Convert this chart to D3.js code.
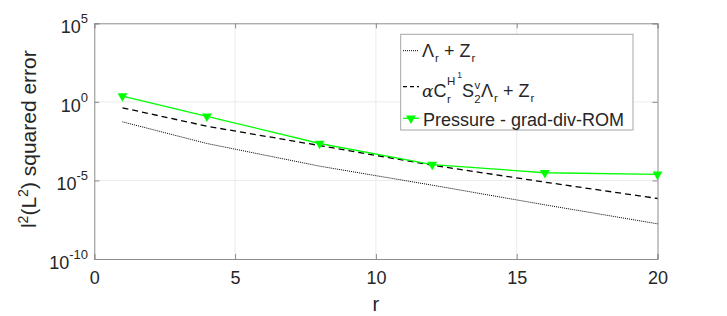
<!DOCTYPE html>
<html>
<head>
<meta charset="utf-8">
<script src="https://cdn.jsdelivr.net/npm/d3@7"></script>
<style>
  body { margin: 0; background: #fff; }
  text { font-family: "Liberation Sans", Arial, sans-serif; fill: #262626; }
</style>
</head>
<body>
<div id="chartContainer"></div>
<script>
// values (log axis)
const rValues = [1, 4, 8, 12, 16, 20]
const lambdaZ = [0.0537, 2.24e-3, 8.1e-5, 5.0e-6, 2.8e-7, 1.74e-8]
const boundH1 = [0.417, 0.0282, 1.66e-3, 9.3e-5, 7.8e-6, 7.1e-7]
const pressure = [2.34, 0.12, 2.24e-3, 1.02e-4, 3.09e-5, 2.40e-5]

const xTicks = [0, 5, 10, 15, 20]
const yTickExps = [5, 0, -5, -10]

const width = 727, height = 316
const margin = {top: 23.3, right: 69.5, bottom: 57, left: 94.3}

const x = d3.scaleLinear()
    .domain([0, 20])
    .range([margin.left, width - margin.right])

const y = d3.scaleLog()
    .domain([1e-10, 1e5])
    .range([height - margin.bottom, margin.top])

const svg = d3.select('#chartContainer')
  .append('svg')
  .attr('width', width)
  .attr('height', height)

const frameColor = '#8c8c8c'

// grid
svg.append('g')
  .selectAll('line')
  .data(xTicks.slice(1, -1))
  .join('line')
    .attr('x1', d => x(d)).attr('x2', d => x(d))
    .attr('y1', y.range()[0]).attr('y2', y.range()[1])
    .attr('stroke', '#ebebeb')

svg.append('g')
  .selectAll('line')
  .data(yTickExps.slice(1, -1))
  .join('line')
    .attr('y1', d => y(Math.pow(10, d))).attr('y2', d => y(Math.pow(10, d)))
    .attr('x1', x.range()[0]).attr('x2', x.range()[1])
    .attr('stroke', '#ebebeb')

// axes with inner ticks
let xAxis = g => g
    .attr('transform', `translate(0,${y.range()[0]})`)
    .call(d3.axisBottom(x).tickValues(xTicks).tickSize(-5).tickPadding(12))
    .call(g => g.selectAll('.domain, line').attr('stroke', frameColor))
    .call(g => g.selectAll('text').attr('font-size', 18).attr('fill', '#262626'))

let xTop = g => g
    .attr('transform', `translate(0,${y.range()[1]})`)
    .call(d3.axisTop(x).tickValues(xTicks).tickSize(-5).tickFormat(''))
    .call(g => g.selectAll('.domain, line').attr('stroke', frameColor))

let yAxis = g => g
    .attr('transform', `translate(${x.range()[0]},0)`)
    .call(d3.axisLeft(y).tickValues(yTickExps.map(e => Math.pow(10, e))).tickSize(-5).tickFormat(''))
    .call(g => g.selectAll('.domain, line').attr('stroke', frameColor))

let yRight = g => g
    .attr('transform', `translate(${x.range()[1]},0)`)
    .call(d3.axisRight(y).tickValues(yTickExps.map(e => Math.pow(10, e))).tickSize(-5).tickFormat(''))
    .call(g => g.selectAll('.domain, line').attr('stroke', frameColor))

svg.append('g').call(xAxis)
svg.append('g').call(xTop)
svg.append('g').call(yAxis)
svg.append('g').call(yRight)

// y tick labels 10^n
const yl = svg.append('g')
  .selectAll('text')
  .data(yTickExps)
  .join('text')
    .attr('text-anchor', 'end')
    .attr('x', 88)
    .attr('y', d => y(Math.pow(10, d)) + 10)
    .attr('font-size', 18)
yl.append('tspan').text('10')
yl.append('tspan').attr('font-size', 13).attr('dy', -10).text(d => d)

// axis titles
svg.append('text')
    .attr('x', x(10))
    .attr('y', 311)
    .attr('text-anchor', 'middle')
    .attr('font-size', 20)
    .text('r')

const ylab = svg.append('text')
    .attr('transform', `translate(36,${(y.range()[0] + y.range()[1]) / 2 - 2}) rotate(-90)`)
    .attr('text-anchor', 'middle')
    .attr('font-size', 21)
ylab.append('tspan').text('l')
ylab.append('tspan').attr('font-size', 14).attr('dy', -8).text('2')
ylab.append('tspan').attr('dy', 8).text('(L')
ylab.append('tspan').attr('font-size', 14).attr('dy', -8).text('2')
ylab.append('tspan').attr('dy', 8).text(') squared error')

// series
const series = [
  {values: lambdaZ, stroke: '#000', width: 1, dash: '1,1'},
  {values: boundH1, stroke: '#000', width: 1.3, dash: '6,4'},
  {values: pressure, stroke: '#00ff00', width: 1.3, dash: null}
]

let line = d3.line()
    .x((d, i) => x(rValues[i]))
    .y(d => y(d))

svg.append('g')
  .selectAll('path')
  .data(series)
  .join('path')
    .attr('fill', 'none')
    .attr('stroke', d => d.stroke)
    .attr('stroke-width', d => d.width)
    .attr('stroke-dasharray', d => d.dash)
    .attr('d', d => line(d.values))

const tri = d3.symbol().type(d3.symbolTriangle).size(42)

svg.append('g')
  .selectAll('path')
  .data(pressure)
  .join('path')
    .attr('transform', (d, i) => `translate(${x(rValues[i])},${y(d)}) rotate(180)`)
    .attr('d', tri)
    .attr('fill', '#00ff00')

// legend
const lg = svg.append('g')
lg.append('rect')
    .attr('x', 400.7).attr('y', 34.3)
    .attr('width', 232.3).attr('height', 95.7)
    .attr('fill', '#fff')
    .attr('stroke', '#a6a6a6')

lg.append('line').attr('x1', 403).attr('x2', 419).attr('y1', 50.7).attr('y2', 50.7)
    .attr('stroke', series[0].stroke).attr('stroke-width', 1).attr('stroke-dasharray', series[0].dash)
lg.append('line').attr('x1', 403).attr('x2', 419).attr('y1', 86.7).attr('y2', 86.7)
    .attr('stroke', series[1].stroke).attr('stroke-width', 1.3).attr('stroke-dasharray', '4,3')
lg.append('line').attr('x1', 403).attr('x2', 419).attr('y1', 118.3).attr('y2', 118.3)
    .attr('stroke', '#00ff00').attr('stroke-width', 1.3)
lg.append('path').attr('transform', 'translate(411,118.3) rotate(180)').attr('d', tri).attr('fill', '#00ff00')

const fs = 18, sub = 11.5
const t1 = lg.append('text').attr('x', 422).attr('y', 56.7).attr('font-size', fs).attr('fill', '#000')
t1.append('tspan').text('Λ')
t1.append('tspan').attr('font-size', sub).attr('dy', 5).attr('dx', 1).text('r')
t1.append('tspan').attr('dy', -5).text(' + Z')
t1.append('tspan').attr('font-size', sub).attr('dy', 5).attr('dx', 1).text('r')

const t2 = lg.append('text').attr('x', 422).attr('y', 96.7).attr('font-size', fs).attr('fill', '#000')
t2.append('tspan').attr('font-family', '"DejaVu Serif", serif').attr('font-style', 'italic').attr('font-size', 17).text('α')
t2.append('tspan').text('C')
t2.append('tspan').attr('font-size', sub).attr('dy', -11.7).attr('dx', 0.5).text('H')
t2.append('tspan').attr('font-size', 8.5).attr('dy', -7).attr('dx', 2).text('1')
t2.append('tspan').attr('font-size', sub).attr('dy', 24.7).attr('dx', -15).text('r')
t2.append('tspan').attr('dy', -6).attr('dx', 11).text('S')
t2.append('tspan').attr('font-size', sub).attr('dy', -8).attr('dx', 0.5).text('v')
t2.append('tspan').attr('font-size', sub).attr('dy', 14).attr('dx', -6).text('2')
t2.append('tspan').attr('dy', -6).attr('dx', 0.5).text('Λ')
t2.append('tspan').attr('font-size', sub).attr('dy', 5).attr('dx', 1).text('r')
t2.append('tspan').attr('dy', -5).text(' + Z')
t2.append('tspan').attr('font-size', sub).attr('dy', 5).attr('dx', 1).text('r')

lg.append('text').attr('x', 423).attr('y', 126).attr('font-size', fs).attr('fill', '#000')
    .text('Pressure - grad-div-ROM')
</script>
</body>
</html>
